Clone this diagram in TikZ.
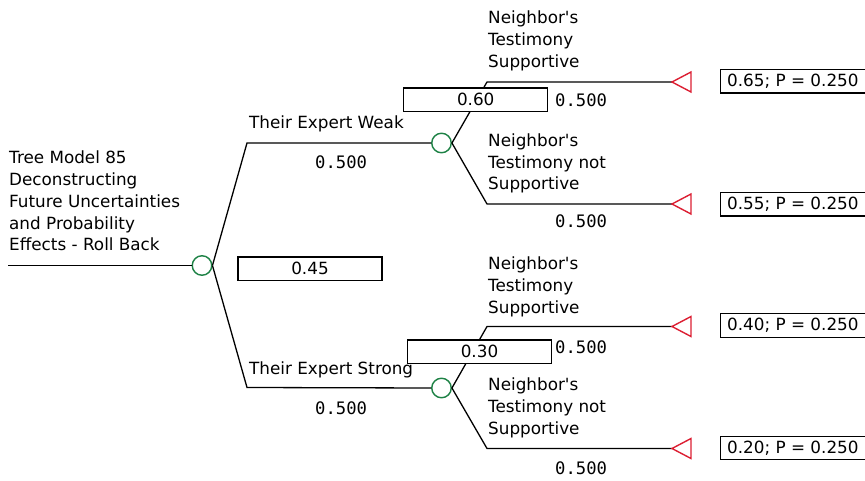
\documentclass[tikz,border=0pt]{standalone}
\usepackage{fontspec}
\setmainfont{DejaVu Sans}
\newfontfamily\numfont{DejaVu Sans Mono}
\usetikzlibrary{shapes,arrows}
\definecolor{chancegreen}{RGB}{30,130,70}
\definecolor{endred}{RGB}{220,30,50}
\tikzstyle{line} = [draw, line width=1.3pt]
\tikzstyle{chance} = [circle, draw=chancegreen, line width=1.4pt,
    minimum size=19.5pt, inner sep=0pt]
\tikzstyle{terminal} = [draw=endred, line width=1.4pt, line join=miter]
\tikzstyle{valuebox} = [rectangle, draw, fill=white, line width=1.4pt,
    minimum width=144pt, minimum height=23.5pt, inner sep=0pt,
    font=\fontsize{16.8}{20}\selectfont]
\tikzstyle{payoff} = [rectangle, draw, fill=white, line width=1.4pt,
    minimum height=23.5pt, inner xsep=7pt, inner ysep=0pt, anchor=west,
    font=\fontsize{16.8}{20}\selectfont]
\tikzstyle{branchtext} = [anchor=base west, inner sep=0pt, align=left,
    font=\fontsize{16.8}{21.8}\selectfont]
\tikzstyle{probtext} = [anchor=base west, inner sep=0pt,
    font=\numfont\fontsize{17.2}{20}\selectfont]

\begin{document}
\begin{tikzpicture}
[x=1pt, y=-1pt]
    \useasboundingbox (0,0) rectangle (865,481);
    % Place nodes
    \coordinate (start) at (8,265.5);
    \node [chance] (root) at (202,265.5) {};
    \coordinate (weakbend) at (247,143);
    \coordinate (strongbend) at (247,387.5);
    \node [chance] (weak) at (441.5,143) {};
    \node [chance] (strong) at (441.5,388) {};

    \coordinate (wsbend) at (487,82);
    \coordinate (wnbend) at (487,204);
    \coordinate (ssbend) at (487,326.5);
    \coordinate (snbend) at (487,448.5);
    \coordinate (wsend) at (672,82);
    \coordinate (wnend) at (672,204);
    \coordinate (ssend) at (672,326.5);
    \coordinate (snend) at (672,448.5);

    % Draw edges
    \path [line] (start) -- (root.west);
    \path [line] (root.east) -- (weakbend) -- (weak.west);
    \path [line] (root.east) -- (strongbend) -- (strong.west);
    \path [line] (weak.east) -- (wsbend) -- (wsend);
    \path [line] (weak.east) -- (wnbend) -- (wnend);
    \path [line] (strong.east) -- (ssbend) -- (ssend);
    \path [line] (strong.east) -- (snbend) -- (snend);

    % End triangles
    \foreach \e in {wsend,wnend,ssend,snend}
        \path [terminal] (\e) -- ++(19,-10) -- ++(0,20) -- cycle;

    % Rolled back values
    \node [valuebox] (rootval) at (310,268.7) {0.45};
    \node [valuebox] (weakval) at (475.7,99.8) {0.60};
    \node [valuebox] (strongval) at (479.5,351.7) {0.30};

    \node [payoff] (wspay) at (719.5,81.3) {0.65; P = 0.250};
    \node [payoff] (wnpay) at (719.5,204.3) {0.55; P = 0.250};
    \node [payoff] (sspay) at (719.5,325.5) {0.40; P = 0.250};
    \node [payoff] (snpay) at (719.5,448) {0.20; P = 0.250};

    % Labels (base = last line)
    \node [branchtext] (title) at (9,251) {Tree Model 85\\Deconstructing\\Future Uncertainties\\and Probability\\Effects - Roll Back};
    \node [branchtext] (weaklbl) at (249,128.5) {Their Expert Weak};
    \node [branchtext] (stronglbl) at (249,374) {Their Expert Strong};
    \node [branchtext] (wslbl) at (488,67.5) {Neighbor\textquotesingle s\\Testimony\\Supportive};
    \node [branchtext] (wnlbl) at (488,190) {Neighbor\textquotesingle s\\Testimony not\\Supportive};
    \node [branchtext] (sslbl) at (488,313) {Neighbor\textquotesingle s\\Testimony\\Supportive};
    \node [branchtext] (snlbl) at (488,434) {Neighbor\textquotesingle s\\Testimony not\\Supportive};

    \node [probtext] (weakp) at (315,169) {0.500};
    \node [probtext] (strongp) at (315,414.3) {0.500};
    \node [probtext] (wsp) at (555,107) {0.500};
    \node [probtext] (wnp) at (555,228) {0.500};
    \node [probtext] (ssp) at (555,353) {0.500};
    \node [probtext] (snp) at (555,474) {0.500};

\end{tikzpicture}
\end{document}
